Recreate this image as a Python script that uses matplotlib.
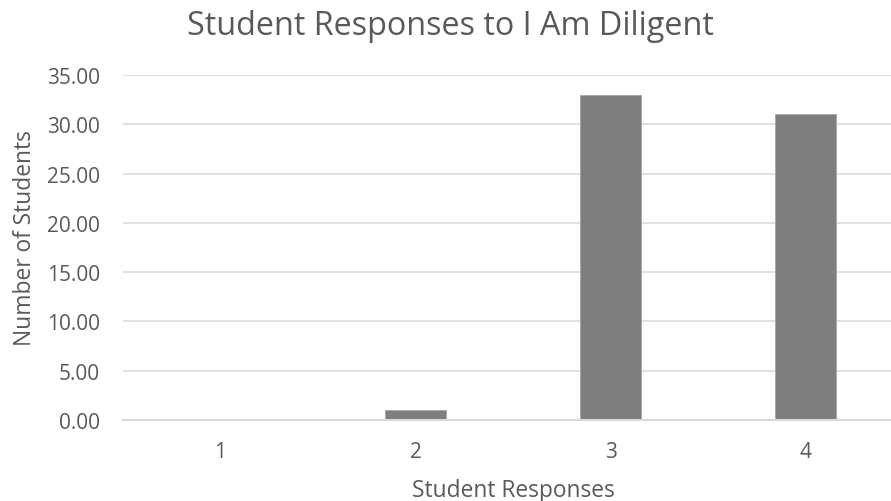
import matplotlib
matplotlib.use("Agg")
import matplotlib.pyplot as plt
from matplotlib.ticker import FuncFormatter, MultipleLocator

categories = ["1", "2", "3", "4"]
students = [0, 1, 33, 31]

title = "Student Responses to I Am Diligent"
x_label = "Student Responses"
y_label = "Number of Students"

plt.rcParams["font.family"] = ["Open Sans", "DejaVu Sans"]
text_color = "#595959"

W, H = 891, 502
fig = plt.figure(figsize=(W / 100, H / 100), dpi=100)
# plot area: x from 123 px to 903 px (runs past the right edge), y from 76 px to 421 px
ax = fig.add_axes([123 / W, 1 - 421 / H, (903 - 123) / W, (421 - 76) / H])

x = list(range(len(categories)))
ax.bar(x, students, width=0.315, color="#7f7f7f", edgecolor="#a6a6a6",
       linewidth=0.6, zorder=3)

ax.set_xlim(-0.5, len(categories) - 0.5)
ax.set_ylim(0, 35)
ax.yaxis.set_major_locator(MultipleLocator(5))
ax.yaxis.set_major_formatter(FuncFormatter(lambda v, _: f"{v:.2f}"))
ax.set_xticks(x)
ax.set_xticklabels(categories)

ax.grid(axis="y", color="#d9d9d9", linewidth=1.1, zorder=0)
for side in ["top", "right", "left"]:
    ax.spines[side].set_visible(False)
ax.spines["bottom"].set_color("#d9d9d9")
ax.spines["bottom"].set_linewidth(1.5)
ax.spines["bottom"].set_zorder(4)

ax.tick_params(axis="both", length=0, labelsize=15, labelcolor=text_color)
ax.tick_params(axis="y", pad=16.5)
ax.tick_params(axis="x", pad=15)

fig.text(450 / W, 1 - 35 / H, title, ha="center", va="baseline",
         fontsize=23.3, color=text_color)
fig.text(513 / W, 1 - 497 / H, x_label, ha="center", va="baseline",
         fontsize=16.4, color=text_color)
fig.text(25 / W, 1 - 238 / H, y_label, ha="center", va="center", rotation=90,
         fontsize=16.4, color=text_color)

fig.savefig("out.png", dpi=100, facecolor="white")
